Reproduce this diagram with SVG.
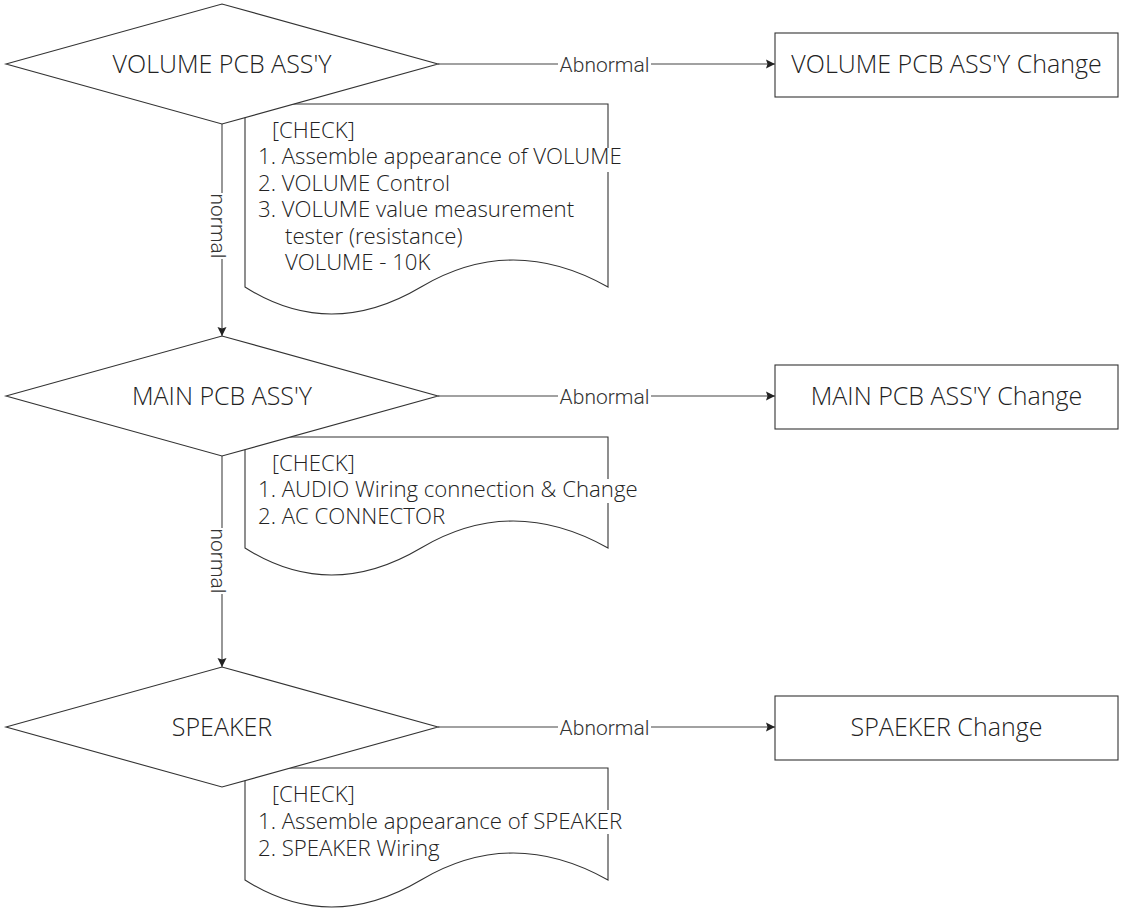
<svg xmlns="http://www.w3.org/2000/svg" width="1128" height="910" viewBox="0 0 1128 910">
  <style>
    .shape { fill: #ffffff; stroke: #333333; stroke-width: 1.1; }
    .doc { fill: #ffffff; stroke: #333333; stroke-width: 1.1; }
    .edge { fill: none; stroke: #444444; stroke-width: 1.1; }
    .node-label { font-family: "Open Sans", "Noto Sans", sans-serif; font-weight: 300; font-size: 25px; fill: #222222; text-anchor: middle; }
    .doc-text { font-family: "Open Sans", "Noto Sans", sans-serif; font-weight: 300; font-size: 22.2px; fill: #222222; }
    .edge-label { font-family: Roboto, "Liberation Sans", sans-serif; font-weight: 300; font-size: 21px; fill: #333333; text-anchor: middle; }
    .mask { fill: #ffffff; stroke: none; }
  </style>
  <defs>
    <marker id="arrow" viewBox="0 0 10 10" refX="9" refY="5" markerWidth="10" markerHeight="10" markerUnits="userSpaceOnUse" orient="auto">
      <path d="M0,0.5 L9,5 L0,9.5 L1.5,5 Z" fill="#222222" stroke="none"/>
    </marker>
  </defs>
  <rect width="1128" height="910" fill="#ffffff"/>

  <!-- check-list documents (drawn first, the decision diamonds overlap their top-left corners) -->
  <g id="doc-volume">
    <path class="doc" d="M245,104 H608 V287 Q512,233 421,287 Q330,341 245,287 Z"/>
    <rect class="mask" x="604" y="148" width="10" height="24"/>
    <text class="doc-text" x="272" y="138">[CHECK]</text>
    <text class="doc-text" x="258" y="164.4">1. Assemble appearance of VOLUME</text>
    <text class="doc-text" x="258" y="190.8">2. VOLUME Control</text>
    <text class="doc-text" x="258" y="217.2">3. VOLUME value measurement</text>
    <text class="doc-text" x="285" y="243.6">tester (resistance)</text>
    <text class="doc-text" x="285" y="270">VOLUME - 10K</text>
  </g>
  <g id="doc-main">
    <path class="doc" d="M245,437 H608 V548 Q512,494 421,548 Q330,602 245,548 Z"/>
    <rect class="mask" x="604" y="479" width="10" height="24"/>
    <text class="doc-text" x="272" y="470.5">[CHECK]</text>
    <text class="doc-text" x="258" y="497">1. AUDIO Wiring connection &amp; Change</text>
    <text class="doc-text" x="258" y="523.5">2. AC CONNECTOR</text>
  </g>
  <g id="doc-speaker">
    <path class="doc" d="M245,768 H608 V880 Q512,826 421,880 Q330,934 245,880 Z"/>
    <rect class="mask" x="604" y="810" width="10" height="24"/>
    <text class="doc-text" x="272" y="802">[CHECK]</text>
    <text class="doc-text" x="258" y="829">1. Assemble appearance of SPEAKER</text>
    <text class="doc-text" x="258" y="855.5">2. SPEAKER Wiring</text>
  </g>

  <!-- connectors -->
  <g id="connectors">
    <path class="edge" d="M438,64 H558 M651,64 H775" marker-end="url(#arrow)"/>
    <text class="edge-label" x="604.5" y="71.5">Abnormal</text>
    <path class="edge" d="M438,396 H558 M651,396 H775" marker-end="url(#arrow)"/>
    <text class="edge-label" x="604.5" y="403.5">Abnormal</text>
    <path class="edge" d="M438,727 H558 M651,727 H775" marker-end="url(#arrow)"/>
    <text class="edge-label" x="604.5" y="734.5">Abnormal</text>

    <path class="edge" d="M222,124 V193 M222,259 V336" marker-end="url(#arrow)"/>
    <text class="edge-label" transform="translate(211,226) rotate(90)" x="0" y="0">normal</text>
    <path class="edge" d="M222,456 V528 M222,594 V667" marker-end="url(#arrow)"/>
    <text class="edge-label" transform="translate(211,561) rotate(90)" x="0" y="0">normal</text>
  </g>

  <!-- decisions -->
  <g id="check-volume">
    <path class="shape" d="M6,64 L222,4 L438,64 L222,124 Z"/>
    <text class="node-label" x="222" y="72.5">VOLUME PCB ASS'Y</text>
  </g>
  <g id="check-main">
    <path class="shape" d="M6,396 L222,336 L438,396 L222,456 Z"/>
    <text class="node-label" x="222" y="404.5">MAIN PCB ASS'Y</text>
  </g>
  <g id="check-speaker">
    <path class="shape" d="M6,727 L222,667 L438,727 L222,787 Z"/>
    <text class="node-label" x="222" y="735.5">SPEAKER</text>
  </g>

  <!-- replacement actions -->
  <g id="change-volume">
    <rect class="shape" x="775" y="33" width="343" height="64"/>
    <text class="node-label" x="946.5" y="73">VOLUME PCB ASS'Y Change</text>
  </g>
  <g id="change-main">
    <rect class="shape" x="775" y="365" width="343" height="64"/>
    <text class="node-label" x="946.5" y="405">MAIN PCB ASS'Y Change</text>
  </g>
  <g id="change-speaker">
    <rect class="shape" x="775" y="696" width="343" height="64"/>
    <text class="node-label" x="946.5" y="736">SPAEKER Change</text>
  </g>
</svg>
